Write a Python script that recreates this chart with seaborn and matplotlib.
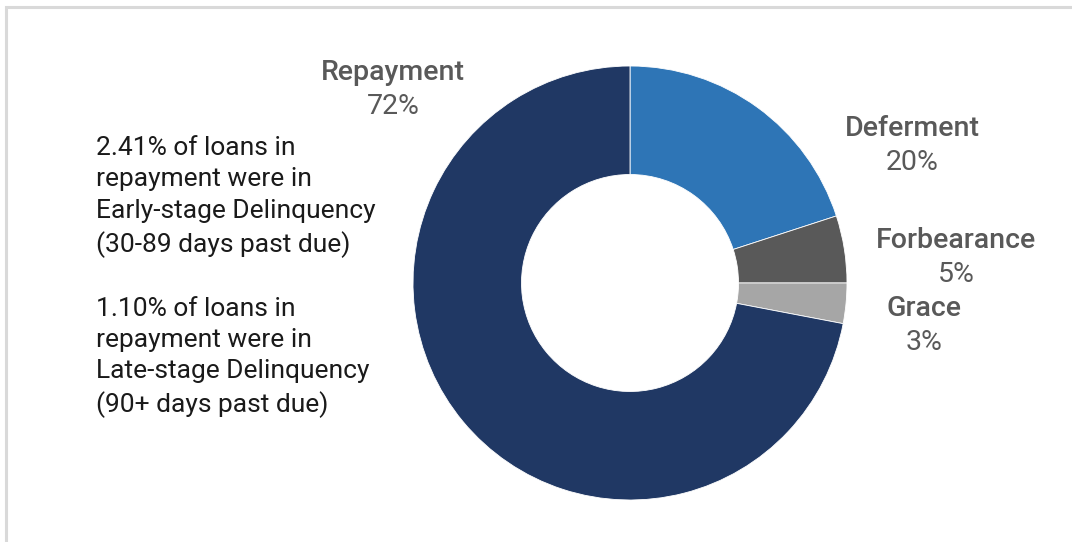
import matplotlib
matplotlib.use("Agg")
import matplotlib.pyplot as plt
import seaborn as sns

categories = ["Deferment", "Forbearance", "Grace", "Repayment"]
values = [20, 5, 3, 72]
pct_labels = ["20%", "5%", "3%", "72%"]
note_lines = [
    "2.41% of loans in",
    "repayment were in",
    "Early-stage Delinquency",
    "(30-89 days past due)",
    "",
    "1.10% of loans in",
    "repayment were in",
    "Late-stage Delinquency",
    "(90+ days past due)",
]

sns.set_theme(style="white")
plt.rcParams['font.family'] = ['Roboto', 'DejaVu Sans']
colors = sns.color_palette(["#2E75B6", "#595959", "#A6A6A6", "#203864"])

W, H = 1072, 542
CX, CY, R = 630, 283, 217
fig = plt.figure(figsize=(W / 100, H / 100), dpi=100)
ax = fig.add_axes([0, 0, 1, 1])

def px(x, y):
    return ((x - CX) / R, (CY - y) / R)

ax.pie(values, colors=colors, startangle=90, counterclock=False,
       radius=1.0, wedgeprops=dict(width=0.5, edgecolor="white", linewidth=0.6))
ax.set_aspect('auto')
ax.set_xlim((0 - CX) / R, (W - CX) / R)
ax.set_ylim((CY - H) / R, CY / R)
ax.axis('off')

label_pos = {
    "Deferment": (912, 128),
    "Forbearance": (956, 240),
    "Grace": (924, 308),
    "Repayment": (393, 72),
}
for cat, pct in zip(categories, pct_labels):
    x, y = label_pos[cat]
    ax.text(*px(x, y), cat, ha='center', va='center', fontsize=20.5,
            color="#595959", fontweight='medium')
    ax.text(*px(x, y + 34), pct, ha='center', va='center', fontsize=20.5,
            color="#595959")

ax.text(*px(96, 136), "\n".join(note_lines), ha='left', va='top', fontsize=19,
        color="#1a1a1a", linespacing=1.39)

# thin frame (top/left visible)
frame = plt.Rectangle((5.5 / W, -0.1), 1.2, (H - 6.5) / H + 0.1,
                      transform=fig.transFigure, fill=False,
                      edgecolor="#d9d9d9", linewidth=2.2, zorder=0)
fig.patches.append(frame)

fig.savefig("out.png", dpi=100)
